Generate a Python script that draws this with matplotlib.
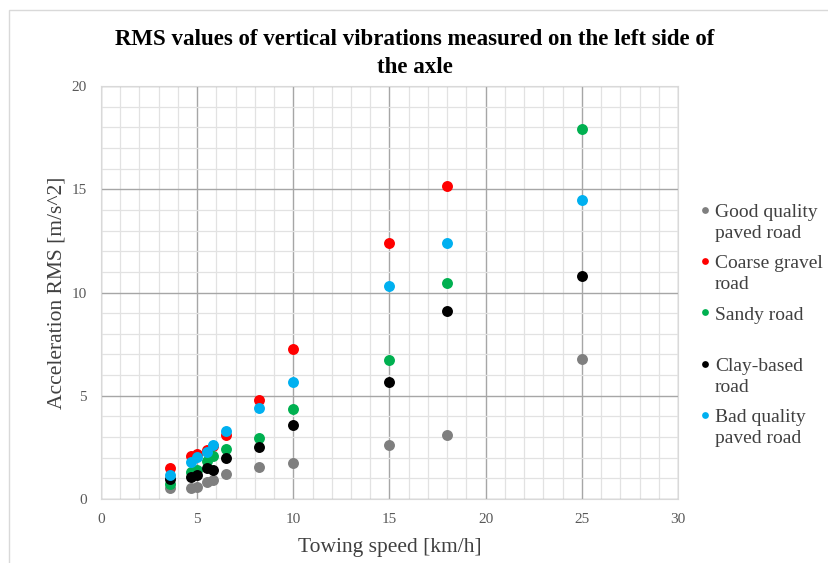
import matplotlib.pyplot as plt
from matplotlib.patches import Rectangle

# towing speeds [km/h]
speed = [3.6, 4.7, 5.0, 5.5, 5.8, 6.5, 8.2, 10, 15, 18, 25]

# RMS values [m/s^2] per road type
good_paved = [0.52, 0.55, 0.60, 0.84, 0.93, 1.20, 1.57, 1.75, 2.60, 3.10, 6.80]
coarse_gravel = [1.50, 2.10, 2.18, 2.35, 2.55, 3.10, 4.77, 7.26, 12.41, 15.16, None]
sandy = [0.72, 1.30, 1.40, 1.85, 2.10, 2.40, 2.97, 4.36, 6.75, 10.47, 17.93]
clay = [0.97, 1.08, 1.17, 1.52, 1.40, 2.00, 2.53, 3.58, 5.65, 9.09, 10.80]
bad_paved = [1.16, 1.81, 2.05, 2.30, 2.61, 3.28, 4.39, 5.68, 10.30, 12.41, 14.46]

series = [
    ("Good quality\npaved road", good_paved, "#7f7f7f"),
    ("Coarse gravel\nroad", coarse_gravel, "#ff0000"),
    ("Sandy road\n", sandy, "#00b050"),
    ("Clay-based\nroad", clay, "#000000"),
    ("Bad quality\npaved road", bad_paved, "#00b0f0"),
]

plt.rcParams['font.family'] = ['Liberation Serif', 'DejaVu Serif']

fig = plt.figure(figsize=(8.29, 5.63), dpi=100)
fig.patches.append(Rectangle((9/829, -0.1), 1.0, (563-10)/563 + 0.1, transform=fig.transFigure,
                             fill=False, edgecolor="#d9d9d9", linewidth=1.0))
ax = fig.add_axes([101/829, 64/563, 577/829, 413/563])

for label, vals, col in series:
    xs = [s for s, v in zip(speed, vals) if v is not None]
    ys = [v for v in vals if v is not None]
    ax.scatter(xs, ys, s=62, color=col, label=label, zorder=3, linewidths=0)

ax.set_xlim(0, 30)
ax.set_ylim(0, 20)
ax.set_xticks(range(0, 31, 5))
ax.set_yticks(range(0, 21, 5))
ax.set_xticks(range(0, 31), minor=True)
ax.set_yticks(range(0, 21), minor=True)
ax.grid(which="major", color="#a6a6a6", linewidth=1.0, zorder=1)
ax.grid(which="minor", color="#e2e2e2", linewidth=0.9, zorder=0)
ax.set_axisbelow(True)
ax.tick_params(which="both", length=0, labelsize=11, labelcolor="#595959", pad=10)
for sp in ax.spines.values():
    sp.set_color("#d9d9d9")

ax.set_xlabel("Towing speed [km/h]", fontsize=15.5, color="#404040", labelpad=9)
ax.set_ylabel("Acceleration RMS [m/s^2]", fontsize=15.5, color="#404040", labelpad=4)

fig.text(0.5, 0.905, "RMS values of vertical vibrations measured on the left side of\nthe axle",
         ha="center", va="center", fontsize=16.5, fontweight="bold", linespacing=1.45)

leg = ax.legend(loc="center left", bbox_to_anchor=(1.01, 0.42), frameon=False,
                fontsize=14, markerscale=0.62, handletextpad=0.0, handlelength=1.0,
                labelspacing=0.68, borderaxespad=0.2, scatteryoffsets=[1.44])
for t in leg.get_texts():
    t.set_color("#404040")
    t.set_linespacing(1.3)

fig.savefig("out.png", dpi=100)
